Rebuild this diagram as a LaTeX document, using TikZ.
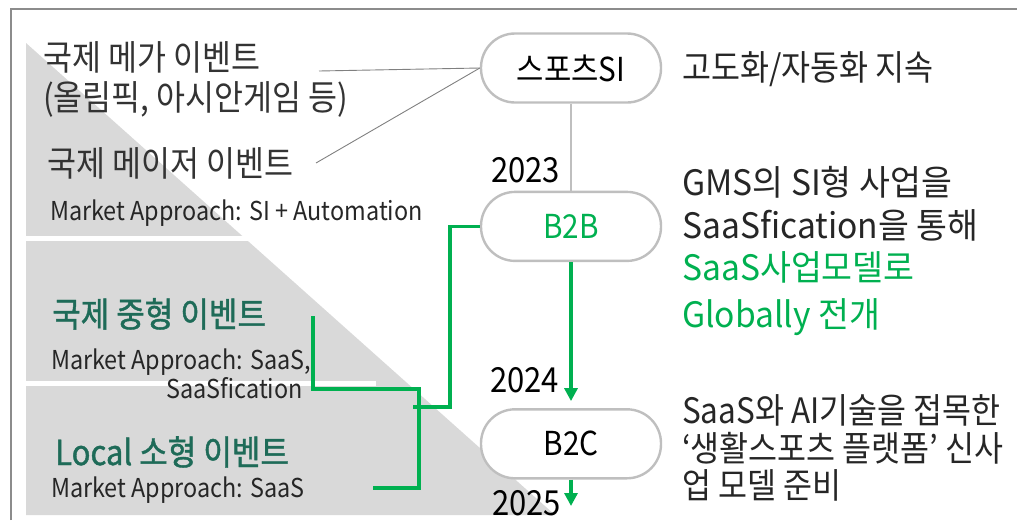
\documentclass[tikz,border=0pt]{standalone}
\usepackage{fontspec}
\setmainfont{Noto Sans CJK KR}[FakeStretch=0.9]
\newfontfamily\medfont{Noto Sans CJK KR}[FakeStretch=0.9, FakeBold=1.2]
\newfontfamily\widefont{Noto Sans CJK KR}[FakeStretch=0.96]
\usetikzlibrary{arrows.meta, positioning}
\definecolor{lgreen}{HTML}{00B050}
\definecolor{dgreen}{HTML}{1E6B58}
\definecolor{bandgray}{HTML}{D9D9D9}
\definecolor{framegray}{HTML}{8C8C8C}
\definecolor{boxgray}{HTML}{BFBFBF}
\definecolor{txtgray}{HTML}{333333}
\newcommand\fsz[1]{\fontsize{#1}{#1}\selectfont}

\begin{document}
\begin{tikzpicture}[x=1pt, y=-1pt,
	node distance=87pt and 30pt,
	box/.style = {draw=boxgray, line width=2.4pt, fill=white, rounded corners=34pt,
		minimum width=180pt, minimum height=69pt, font=\fsz{33}},
	lbl/.style = {anchor=base west, inner sep=0pt},
	big/.style = {lbl, text=txtgray, font=\fsz{35}},
	mid/.style = {lbl, text=dgreen, font=\medfont\fsz{34.5}},
	small/.style = {lbl, text=black!85, font=\fsz{26}},
	side/.style = {lbl, text=black!85, font=\fsz{35}},
	wide/.style = {side, font=\widefont\fsz{35}},
	year/.style = {lbl, text=black, font=\fsz{34.5}},
	gline/.style = {lgreen, line width=3.2pt},
	tip/.style = {-{Triangle[width=13pt,length=13pt]}},
	pointer/.style = {black!50, line width=0.9pt}
	]
	\useasboundingbox (0,0) rectangle (1017,520);
%
	\fill[bandgray] (26,43) -- (555,515) -- (26,515) -- cycle;
	\fill[white] (26,236) rectangle (262,241);
	\fill[white] (26,381) rectangle (376,386);
	\draw[framegray, line width=2pt] (11,520) -- (11,9) -- (1017,9);
%
	\node (si) [box] at (571,68) {스포츠SI};
	\node (b2b) [box, below=of si, text=lgreen] {B2B};
	\node (b2c) [box, below=146pt of b2b] {B2C};
%
	\node (mega1) [big] at (43,70) {국제 메가 이벤트};
	\node (mega2) [big] at (43,110) {(올림픽, 아시안게임 등)};
	\node (major) [big] at (47,176) {국제 메이저 이벤트};
	\node (majmk) [small] at (50,220) {Market Approach: SI + Automation};
	\node (medium) [mid] at (52,327) {국제 중형 이벤트};
	\node (medmk1) [small] at (51,369) {Market Approach: SaaS,};
	\node (medmk2) [small, anchor=base east] at (303,398) {SaaSfication};
	\node (local) [mid] at (55,465) {Local 소형 이벤트};
	\node (locmk) [small] at (51,497) {Market Approach: SaaS};
%
	\node (y23) [year] at (491,182) {2023};
	\node (y24) [year] at (490,392) {2024};
	\node (y25) [year] at (492,515) {2025};
%
	\node (t1) [side] at (682,80) {고도화/자동화 지속};
	\node (t2) [wide] at (682,195) {GMS의 SI형 사업을};
	\node (t3) [wide] at (682,238) {SaaSfication을 통해};
	\node (t4) [wide, text=lgreen] at (682,280) {SaaS사업모델로};
	\node (t5) [wide, text=lgreen] at (682,327) {Globally 전개};
	\node (t6) [side] at (682,423) {SaaS와 AI기술을 접목한};
	\node (t7) [side] at (682,461) {‘생활스포츠 플랫폼’ 신사};
	\node (t8) [side] at (682,498) {업 모델 준비};
%
	\coordinate (megaend) at (319,71);
	\coordinate (majorend) at (316,163);
	\draw[pointer] (si.west) -- (megaend);
	\draw[pointer] (si.west) -- (majorend);
	\draw[boxgray, line width=1.5pt] (si) -- (b2b);
%
	\coordinate (medend) at (313,316);
	\coordinate (locend) at (373,488);
	\coordinate (join) at (413,407);
	\draw[gline] (medend) |- (419,389) |- (locend);
	\draw[gline] (b2b.west) -| (450,407) -- (join);
%
	\draw[gline, tip, shorten >=7pt] (b2b) -- (b2c);
	\coordinate (y25tip) at (571,506);
	\draw[gline, tip] (b2c.south) -- (y25tip);
\end{tikzpicture}
\end{document}
